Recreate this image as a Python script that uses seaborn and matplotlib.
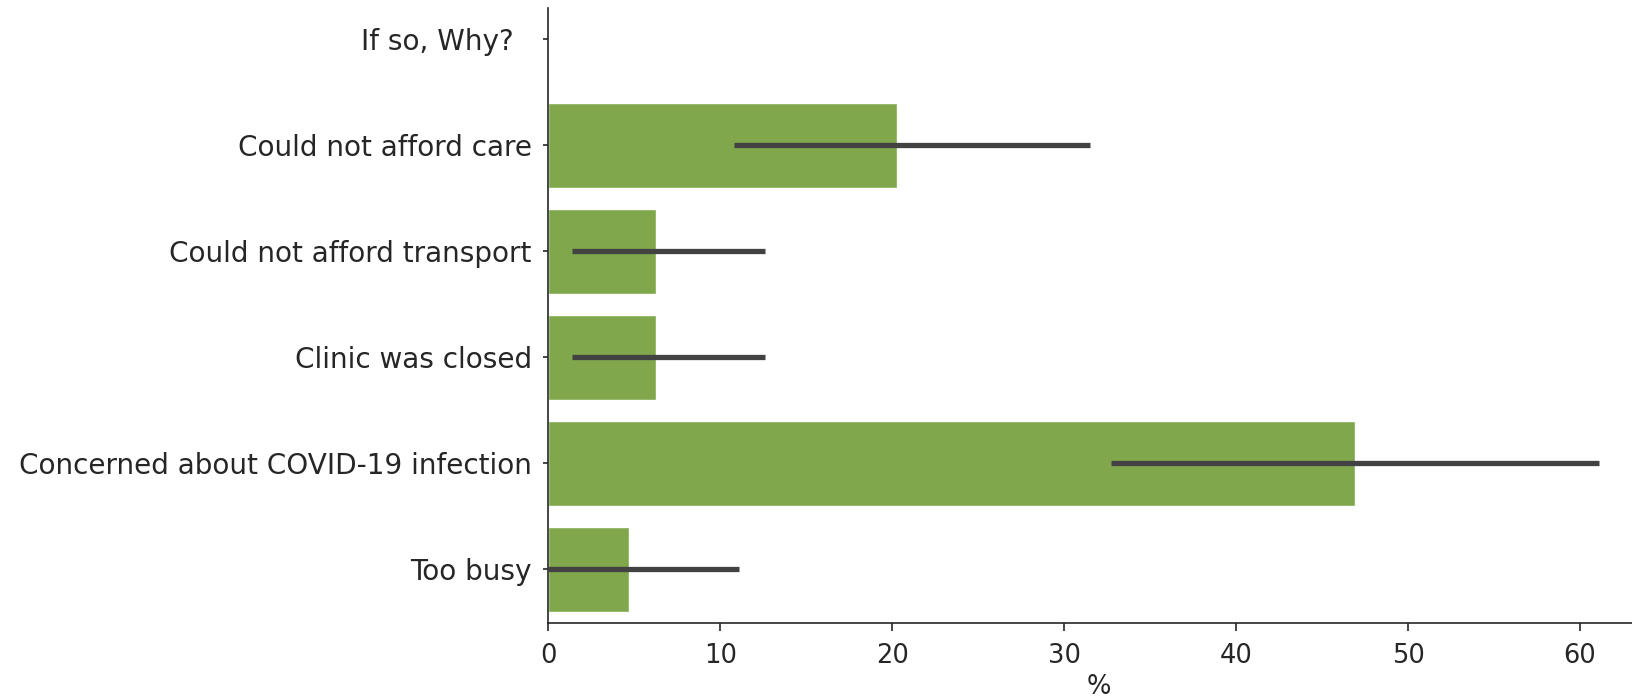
import numpy as np
import pandas as pd
import matplotlib
matplotlib.use("Agg")
import matplotlib.pyplot as plt
import seaborn as sns

categories = ["If so, Why?  ", "Could not afford care", "Could not afford transport",
              "Clinic was closed", "Concerned about COVID-19 infection", "Too busy"]
values = [np.nan, 20.3, 6.25, 6.25, 46.9, 4.7]
ci_low = [np.nan, 10.8, 1.4, 1.4, 32.7, 0.0]
ci_high = [np.nan, 31.5, 12.6, 12.6, 61.1, 11.1]

sns.set_theme(style="ticks")
plt.rcParams['font.family'] = ['DejaVu Sans']

df = pd.DataFrame({"reason": categories, "pct": values})

fig = plt.figure(figsize=(16.32, 6.98), dpi=100)
ax = fig.add_axes([0.336, 0.107, 0.6743, 0.881])
sns.barplot(data=df, x="pct", y="reason", order=categories, color="#80a74b",
            saturation=1, errorbar=None, width=0.8, ax=ax)

pos = np.arange(len(categories))
lo = np.array(ci_low, dtype=float)
hi = np.array(ci_high, dtype=float)
for p, l, h in zip(pos, lo, hi):
    if not np.isnan(l):
        ax.plot([l, h], [p, p], color="#424242", lw=3.8, solid_capstyle="butt", zorder=3)

ax.set_xlim(0, 64.0)
ax.set_ylim(5.51, -0.29)
ax.set_xticks([0, 10, 20, 30, 40, 50, 60])
ax.set_xlabel("%", fontsize=18.5, color="#262626", labelpad=4)
ax.set_ylabel("")
ax.tick_params(axis="x", labelsize=18.5, colors="#262626", length=5.5, width=1.2, pad=8.5)
ax.tick_params(axis="y", labelsize=20.1, colors="#262626", length=3.5, width=1.2, pad=8.5)
for s in ["top", "right"]:
    ax.spines[s].set_visible(False)
for s in ["left", "bottom"]:
    ax.spines[s].set_color("#262626")
    ax.spines[s].set_linewidth(1.2)

fig.savefig("out.png", dpi=100)
